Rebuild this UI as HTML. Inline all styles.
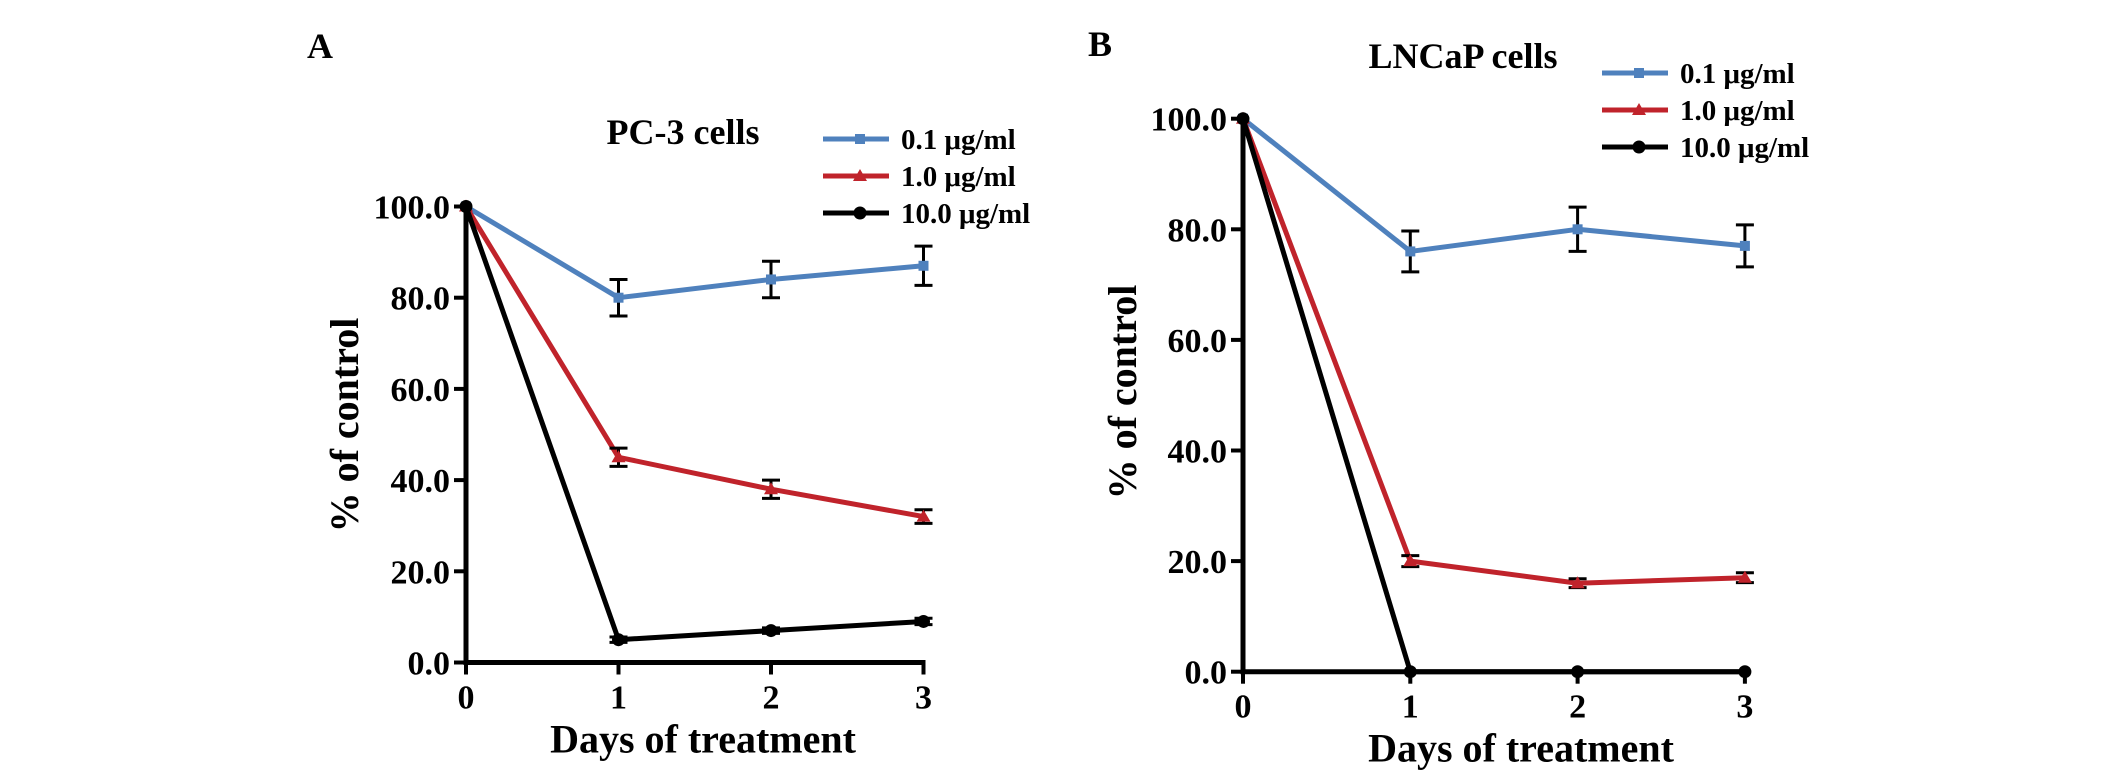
<!DOCTYPE html>
<html><head><meta charset="utf-8"><style>
html,body{margin:0;padding:0;background:#fff;}
svg{display:block;}
text{font-family:"Liberation Serif",serif;font-weight:bold;fill:#000;}
</style></head><body>
<svg id="fig" width="2126" height="773" viewBox="0 0 2126 773">
<text x="320" y="58" font-size="36" text-anchor="middle">A</text>
<text x="1100" y="56" font-size="36" text-anchor="middle">B</text>
</svg>
<script>
const days = [0, 1, 2, 3];
const yTicks = [0, 20, 40, 60, 80, 100];
const yTickLabels = ["0.0", "20.0", "40.0", "60.0", "80.0", "100.0"];
const seriesNames = ["0.1 μg/ml", "1.0 μg/ml", "10.0 μg/ml"];
// Panel A (PC-3)
const pc3Low = [100, 80, 84, 87];
const pc3LowErr = [0, 4, 4, 4.3];
const pc3Mid = [100, 45, 38, 32];
const pc3MidErr = [0, 2, 2, 1.5];
const pc3High = [100, 5, 7, 9];
const pc3HighErr = [0, 0.6, 0.6, 0.7];
// Panel B (LNCaP)
const lncapLow = [100, 76, 80, 77];
const lncapLowErr = [0, 3.7, 4, 3.8];
const lncapMid = [100, 20, 16, 17];
const lncapMidErr = [0, 1, 0.8, 0.9];
const lncapHigh = [100, 0, 0, 0];
const lncapHighErr = [0, 0, 0, 0];

const NS = "http://www.w3.org/2000/svg";
const svg = document.getElementById("fig");
const colors = ["#4f81bd", "#c0232b", "#000000"];
const markers = ["square", "triangle", "circle"];

function mk(tag, attrs, parent) {
  const e = document.createElementNS(NS, tag);
  for (const k in attrs) e.setAttribute(k, attrs[k]);
  (parent || svg).appendChild(e);
  return e;
}
function drawMarker(g, type, x, y, color) {
  let m;
  if (type === "square") m = mk("rect", {x: x - 5, y: y - 5, width: 10, height: 10, fill: color}, g);
  else if (type === "triangle") m = mk("polygon", {points: `${x},${y - 7} ${x - 7},${y + 5} ${x + 7},${y + 5}`, fill: color}, g);
  else m = mk("circle", {cx: x, cy: y, r: 6.5, fill: color}, g);
  
  
}

function panel(cfg) {
  const sx = d => cfg.x0 + d * cfg.dx;
  const sy = v => cfg.y0 - v * cfg.uy;
  const g = mk("g", {});
  
  
  // series
  cfg.series.forEach((s, si) => {
    const sg = mk("g", {}, g);
    
    
    const pts = s.vals.map((v, i) => sx(days[i]) + "," + sy(v)).join(" ");
    const line = mk("polyline", {points: pts, fill: "none", stroke: colors[si], "stroke-width": 5, "stroke-linejoin": "round"}, sg);
    
    
    s.vals.forEach((v, i) => {
      const e = s.err[i];
      if (e > 0) {
        const x = sx(days[i]);
        const eb = mk("path", {d: `M${x},${sy(v + e)}V${sy(v - e)}M${x - 9},${sy(v + e)}H${x + 9}M${x - 9},${sy(v - e)}H${x + 9}`, stroke: "#000", "stroke-width": 3, fill: "none"}, sg);
        
        
      }
      drawMarker(sg, markers[si], sx(days[i]), sy(v), colors[si]);
    });
  });
  // axes
  const ax = mk("path", {d: `M${cfg.x0},${sy(100) - 2}V${cfg.y0}H${sx(3) + 2}`, stroke: "#000", "stroke-width": 5, fill: "none"}, g);
  
  
  yTicks.forEach((t, i) => {
    const tk = mk("line", {x1: cfg.x0 - 12, x2: cfg.x0, y1: sy(t), y2: sy(t), stroke: "#000", "stroke-width": 4}, g);
    
    
    const tl = mk("text", {x: cfg.x0 - 16, y: sy(t) + 12, "font-size": 34, "text-anchor": "end"}, g);
    tl.textContent = yTickLabels[i];
    
    
  });
  days.forEach(d => {
    const tk = mk("line", {x1: sx(d), x2: sx(d), y1: cfg.y0, y2: cfg.y0 + 12, stroke: "#000", "stroke-width": 4}, g);
    
    
    const tl = mk("text", {x: sx(d), y: cfg.y0 + 46, "font-size": 34, "text-anchor": "middle"}, g);
    tl.textContent = String(d);
    
    
  });
  const xt = mk("text", {x: cfg.xTitleX, y: cfg.y0 + 90, "font-size": 40, "text-anchor": "middle"}, g);
  xt.textContent = "Days of treatment";
  
  
  const yt = mk("text", {x: 0, y: 0, "font-size": 40, "text-anchor": "middle", transform: `translate(${cfg.yTitleX},${cfg.yTitleY}) rotate(-90)`}, g);
  yt.textContent = "% of control";
  
  
  const ti = mk("text", {x: cfg.titleX, y: cfg.titleY, "font-size": 36, "text-anchor": "middle"}, g);
  ti.textContent = cfg.title;
  
  
  // legend
  const lg = mk("g", {}, g);
  
  
  seriesNames.forEach((n, i) => {
    const y = cfg.legY + i * cfg.legDy;
    const eg = mk("g", {}, lg);
    
    
    mk("line", {x1: cfg.legX, x2: cfg.legX + 66, y1: y, y2: y, stroke: colors[i], "stroke-width": 5}, eg);
    drawMarker(eg, markers[i], cfg.legX + 37, y, colors[i]);
    const t = mk("text", {x: cfg.legX + 78, y: y + 10, "font-size": 29}, eg);
    t.textContent = n;
  });
}

panel({id: "pc3", x0: 466, dx: 152.5, y0: 662.5, uy: 4.56,
  series: [{vals: pc3Low, err: pc3LowErr}, {vals: pc3Mid, err: pc3MidErr}, {vals: pc3High, err: pc3HighErr}],
  xTitleX: 703, yTitleX: 358, yTitleY: 425, title: "PC-3 cells", titleX: 683, titleY: 144,
  legX: 823, legY: 139, legDy: 37});
panel({id: "lncap", x0: 1243, dx: 167.3, y0: 671.7, uy: 5.53,
  series: [{vals: lncapLow, err: lncapLowErr}, {vals: lncapMid, err: lncapMidErr}, {vals: lncapHigh, err: lncapHighErr}],
  xTitleX: 1521, yTitleX: 1136, yTitleY: 392, title: "LNCaP cells", titleX: 1463, titleY: 68,
  legX: 1602, legY: 73, legDy: 37});
</script>
</body></html>
